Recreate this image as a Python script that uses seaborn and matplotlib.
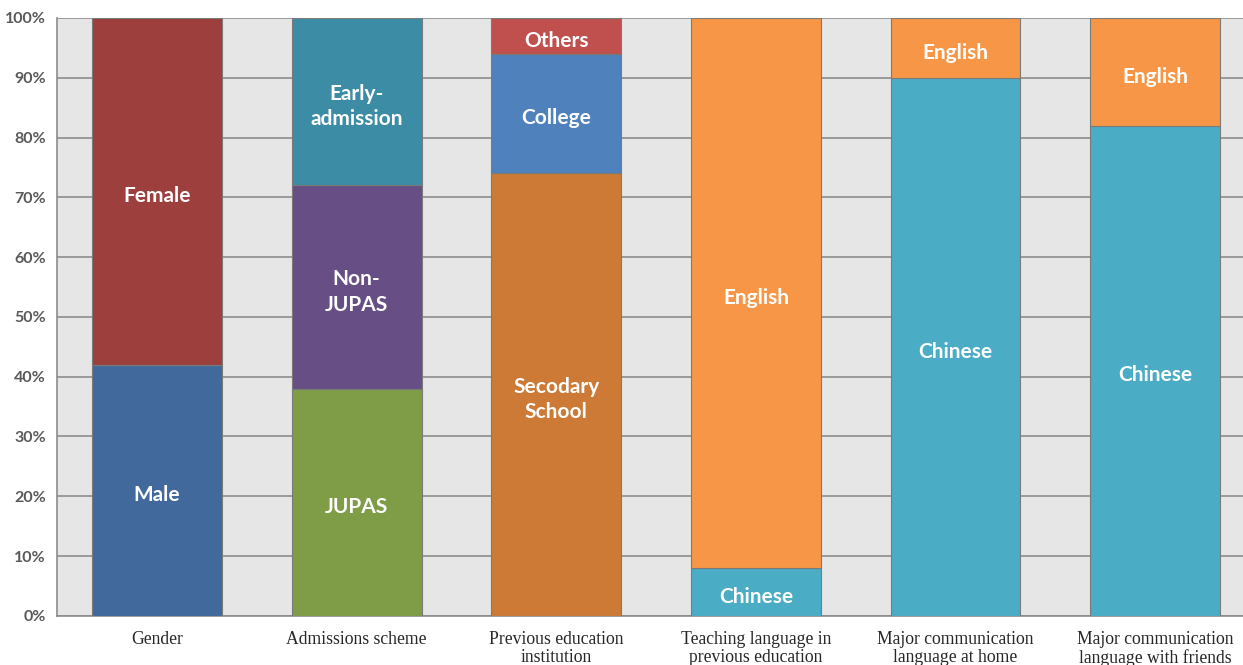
"""Stacked 100% bar chart of student background profile."""

import matplotlib

matplotlib.use("Agg")
import matplotlib.pyplot as plt
import pandas as pd
import seaborn as sns
from matplotlib.ticker import FuncFormatter, MultipleLocator

# categories on the x axis
categories = [
    "Gender",
    "Admissions scheme",
    "Previous education\ninstitution",
    "Teaching language in\nprevious education",
    "Major communication\nlanguage at home",
    "Major communication\nlanguage with friends",
]

# segments per category, bottom to top
segment_labels = [
    ["Male", "Female"],
    ["JUPAS", "Non-\nJUPAS", "Early-\nadmission"],
    ["Secodary\nSchool", "College", "Others"],
    ["Chinese", "English"],
    ["Chinese", "English"],
    ["Chinese", "English"],
]
segment_values = [
    [42, 58],
    [38, 34, 28],
    [74, 20, 6],
    [8, 92],
    [90, 10],
    [82, 18],
]

segment_colors = {
    "Male": "#41699C",
    "Female": "#9C3F3D",
    "JUPAS": "#7F9C47",
    "Non-\nJUPAS": "#674E84",
    "Early-\nadmission": "#3C8CA5",
    "Secodary\nSchool": "#CC7A36",
    "College": "#4F81BD",
    "Others": "#C0504D",
    "Chinese": "#4BACC6",
    "English": "#F79646",
}

rows = []
for cat, labels, values in zip(categories, segment_labels, segment_values):
    bottom = 0
    for lab, val in zip(labels, values):
        rows.append({"category": cat, "segment": lab, "value": val, "bottom": bottom})
        bottom += val
df = pd.DataFrame(rows)

sns.set_style("white")
fig = plt.figure(figsize=(12.43, 6.65), dpi=100)
ax = fig.add_axes([0.046, 0.074, 0.954, 0.899])
ax.set_facecolor("#E6E6E6")

for _, r in df.iterrows():
    sns.barplot(
        x=[r["category"]],
        y=[r["value"]],
        order=categories,
        bottom=r["bottom"],
        color=segment_colors[r["segment"]],
        saturation=1,
        width=0.65,
        errorbar=None,
        edgecolor="#7a7a7a",
        linewidth=0.8,
        zorder=3,
        ax=ax,
    )
    xpos = categories.index(r["category"])
    ax.text(
        xpos,
        r["bottom"] + r["value"] / 2 - 0.8,
        r["segment"],
        ha="center",
        va="center",
        color="white",
        fontsize=15,
        fontweight="bold",
        family="Lato",
        linespacing=1.35,
        zorder=4,
    )

ax.set_xlim(-0.5, 5.44)
ax.set_ylim(0, 100)
ax.yaxis.set_major_locator(MultipleLocator(10))
ax.yaxis.set_major_formatter(FuncFormatter(lambda v, _: f"{v:.0f}%"))
ax.grid(axis="y", color="#8C8C8C", linewidth=1.2, zorder=0)
ax.set_axisbelow(True)

for side in ["top", "right"]:
    ax.spines[side].set_visible(False)
for side in ["left", "bottom"]:
    ax.spines[side].set_color("#8C8C8C")
    ax.spines[side].set_linewidth(1.2)

ax.tick_params(axis="both", length=0)
ax.tick_params(axis="y", pad=8)
ax.tick_params(axis="x", pad=11)
ax.set_xlabel("")
ax.set_ylabel("")
for lab in ax.get_yticklabels():
    lab.set_family("Lato")
    lab.set_fontweight("bold")
    lab.set_fontsize(11.5)
    lab.set_color("#595959")
for lab in ax.get_xticklabels():
    lab.set_family("Liberation Serif")
    lab.set_fontsize(12.7)
    lab.set_color("#262626")
    lab.set_linespacing(1.05)

fig.savefig("out.png", dpi=100)
